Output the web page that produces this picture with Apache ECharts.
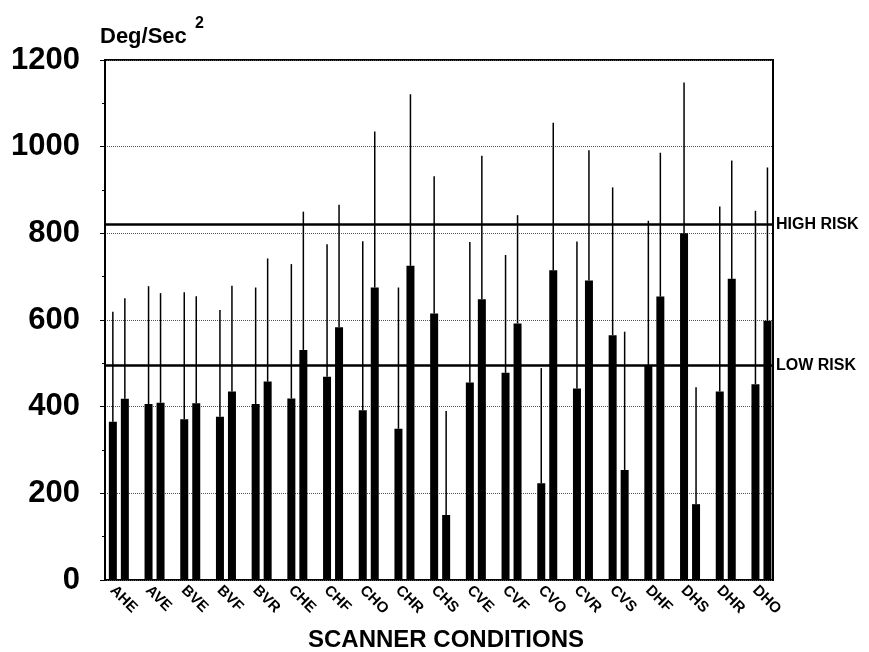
<!DOCTYPE html>
<html>
<head>
<meta charset="utf-8">
<script src="https://cdn.jsdelivr.net/npm/echarts@6/dist/echarts.min.js"></script>
<style>
  html, body { margin: 0; background: #fff; }
  #chart { width: 869px; height: 652px; }
</style>
</head>
<body>
<div id="chart"></div>
<script>
const categories = ["AHE", "AVE", "BVE", "BVF", "BVR", "CHE", "CHF", "CHO", "CHR", "CHS",
  "CVE", "CVF", "CVO", "CVR", "CVS", "DHF", "DHS", "DHR", "DHO"];
const firstMeans = [365, 406, 371, 377, 406, 419, 469, 392, 349, 615, 456, 478, 223, 442, 565, 495, 800, 435, 452];
const secondMeans = [418, 409, 408, 435, 458, 531, 583, 675, 725, 150, 648, 592, 715, 691, 254, 654, 175, 695, 598];
const firstUpper = [619, 678, 664, 623, 675, 729, 775, 782, 675, 932, 780, 750, 489, 781, 906, 829, 1148, 862, 852];
const secondUpper = [650, 662, 655, 679, 742, 850, 866, 1035, 1121, 390, 979, 842, 1055, 992, 573, 986, 445, 968, 952];
const riskLevels = [
  { name: "HIGH RISK", value: 821 },
  { name: "LOW RISK", value: 495 },
];
const yMin = 0;
const yMax = 1200;
const yInterval = 200;

const FONT = '"Liberation Sans", Arial, sans-serif';

// thin line from bar top to upper value, shifted onto its own bar
const errorSeries = (means, upper, side) => ({
  type: "custom",
  xAxisIndex: 0,
  yAxisIndex: 0,
  silent: true,
  z: 3,
  data: means.map((m, i) => [i, m, upper[i]]),
  renderItem: (params, api) => {
    const band = api.size([1, 0])[0];
    const dx = side * band * 0.168;
    const lo = api.coord([api.value(0), api.value(1)]);
    const hi = api.coord([api.value(0), api.value(2)]);
    return {
      type: "line",
      shape: { x1: lo[0] + dx, y1: lo[1], x2: hi[0] + dx, y2: hi[1] },
      style: { stroke: "#000", lineWidth: 1.5 },
    };
  },
});

const barSeries = (values) => ({
  type: "bar",
  xAxisIndex: 0,
  yAxisIndex: 0,
  data: values,
  barWidth: 8,
  barGap: "50%",
  itemStyle: { color: "#000" },
  silent: true,
});

const chart = echarts.init(document.getElementById("chart"));
chart.setOption({
  animation: false,
  backgroundColor: "#fff",
  grid: [
    { left: 101, top: 60, width: 678.3, bottom: 72 },
    { left: 105, top: 60, right: 96, bottom: 72, show: true, borderColor: "#000", borderWidth: 2 },
    // labels sit a little left of the bar pairs in the original
    { left: 94.5, top: 60, width: 678.3, bottom: 72 },
  ],
  xAxis: [
    { gridIndex: 0, type: "category", data: categories, show: false },
    { gridIndex: 1, type: "value", min: 0, max: 1, show: false },
    {
      gridIndex: 2,
      type: "category",
      data: categories,
      axisLine: { show: false },
      axisTick: { show: false },
      axisLabel: {
        rotate: -45,
        interval: 0,
        margin: 8,
        color: "#000",
        fontFamily: FONT,
        fontWeight: "bold",
        fontSize: 15,
      },
    },
  ],
  yAxis: [
    { gridIndex: 0, type: "value", min: yMin, max: yMax, show: false },
    {
      gridIndex: 1,
      type: "value",
      min: yMin,
      max: yMax,
      interval: yInterval,
      axisLine: { show: true, lineStyle: { color: "#000", width: 2 } },
      axisTick: { show: true, length: 5, lineStyle: { color: "#000" } },
      minorTick: { show: true, splitNumber: 2, length: 3, lineStyle: { color: "#000" } },
      axisLabel: {
        margin: 25,
        color: "#000",
        fontFamily: FONT,
        fontWeight: "bold",
        fontSize: 31,
        formatter: (v) => String(v),
      },
      splitLine: { show: true, lineStyle: { type: "dotted", color: "#555", width: 1 } },
    },
    { gridIndex: 2, type: "value", min: yMin, max: yMax, show: false },
  ],
  series: [
    barSeries(firstMeans),
    barSeries(secondMeans),
    errorSeries(firstMeans, firstUpper, -1),
    errorSeries(secondMeans, secondUpper, 1),
    {
      type: "line",
      xAxisIndex: 1,
      yAxisIndex: 1,
      data: [],
      markLine: {
        silent: true,
        symbol: "none",
        lineStyle: { color: "#000", width: 2.5, type: "solid" },
        label: {
          position: "end",
          formatter: "{b}",
          distance: 3,
          color: "#000",
          fontFamily: FONT,
          fontWeight: "bold",
          fontSize: 16,
        },
        data: riskLevels.map((r) => ({ name: r.name, yAxis: r.value })),
      },
    },
  ],
  graphic: [
    {
      type: "text",
      x: 100,
      y: 37,
      style: { text: "Deg/Sec", fill: "#000", fontFamily: FONT, fontWeight: "bold", fontSize: 22, verticalAlign: "middle" },
    },
    {
      type: "text",
      x: 195,
      y: 24,
      style: { text: "2", fill: "#000", fontFamily: FONT, fontWeight: "bold", fontSize: 16, verticalAlign: "middle" },
    },
    {
      type: "text",
      x: 446,
      y: 640,
      style: {
        text: "SCANNER CONDITIONS",
        fill: "#000",
        fontFamily: FONT,
        fontWeight: "bold",
        fontSize: 24,
        align: "center",
        verticalAlign: "middle",
      },
    },
  ],
});
</script>
</body>
</html>
